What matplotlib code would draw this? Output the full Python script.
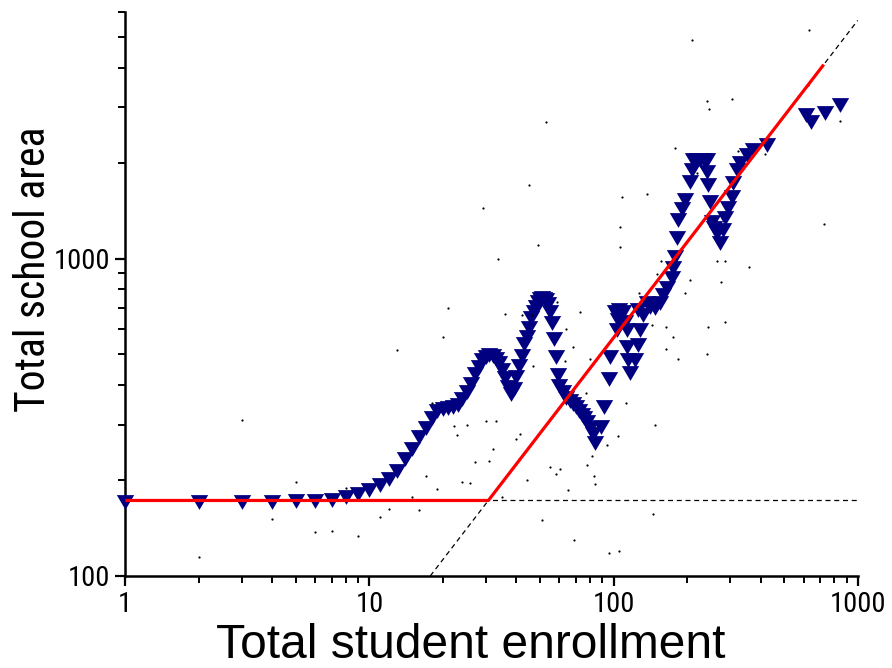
import matplotlib
matplotlib.use("Agg")
import matplotlib.pyplot as plt
from matplotlib.path import Path
from matplotlib.ticker import FixedLocator, FixedFormatter, LogLocator, NullFormatter

# ---- data -------------------------------------------------------------
# smoothed curve (blue triangles)
tri_x = [1, 2, 3, 4, 5, 6, 7, 8, 9, 10, 11, 12, 13, 14, 15, 16, 17, 18, 19, 20,
         21, 22, 23, 24, 25, 26, 27, 28, 29, 30, 31, 32, 33, 34, 35, 36, 37, 38,
         39, 40, 41, 42, 43, 44, 45, 46, 47, 48, 49, 50, 51, 52, 53, 54, 55, 56,
         57, 58, 59, 60, 62, 64, 66, 68, 70, 72, 74, 76, 78, 80, 82, 84,
         89, 91, 96, 97, 101.4, 103, 104.6, 105, 109.7, 111.5, 113.3, 113.3, 115,
         116.8, 122.5, 126.4, 128.4, 126.4, 132.5, 136.8, 141, 148, 155, 160, 165,
         173, 175.8, 178.6, 181.5, 184.4, 190, 196.4, 205.9, 209.2, 212, 219.3,
         225, 235, 241, 241, 244.7, 248.6, 252.6, 258, 264.9, 273.3, 281.8, 286.4,
         295, 305, 309.7, 319.9, 330, 351, 374, 424.5, 615, 643, 736, 848]
tri_y = [171, 171, 171, 171, 172, 172, 174, 177, 181, 186, 193, 202, 215, 233, 252, 275,
         292, 315, 330, 336, 339, 342, 346, 360, 380, 404, 432, 456, 478, 490, 496,
         492, 482, 470, 447, 420, 395, 375, 388, 425, 460, 495, 540, 565, 605, 650,
         680, 705, 730, 745, 750, 748, 742, 720, 680, 625, 560, 490, 430, 398, 380,
         365, 355, 348, 340, 332, 322, 315, 305, 293, 280, 262,
         295, 341, 417, 491, 681, 596, 641, 690, 681, 633, 596, 528, 479,
         435, 479, 535, 596, 689, 665, 723, 706, 698, 723, 769, 807,
         868, 933, 1015, 1160, 1324, 1430, 1531, 1749, 1904, 2047, 2047,
         2047, 2047, 2047, 1880, 1708, 1512, 1308, 1250, 1202, 1118, 1231, 1341,
         1450, 1568, 1729, 1904, 1998, 2123, 2201, 2282, 2837, 2704, 2873, 3051]

# raw observations (small dots)
dot_x = [29.1, 33.6, 634, 209, 52.8, 241, 307, 245, 45, 108, 136.7, 178.5, 846, 624,
         727, 49, 106.3, 106.7, 358, 276.6, 286.5, 265, 127, 197, 206, 178, 419, 323,
         220, 156, 150, 21, 20.1, 13.0, 3.0, 22.1, 25, 29.9, 33, 22.9, 30.8, 27.1, 24,
         25.8, 17, 19, 5, 8, 15, 12, 16, 11, 4, 6, 7, 9, 2, 35.8, 42, 46.3, 58.7,
         72.6, 79.9, 64, 68.1, 46.9, 41.3, 39.9, 32.1, 44, 54.9, 58.2, 60.2, 65.3, 35,
         77.6, 83.1, 83.6, 148, 104, 112, 163.6, 175.7, 183, 163.6, 243, 286.5, 242,
         144.6, 50.9, 69, 96, 105, 18, 77.4, 93.6, 81.4, 143.4, 63]
dot_y = [1441, 1000, 5270, 4884, 2705, 3151, 3190, 2966, 1712, 1566, 1595, 2231, 2725,
         3540, 1288, 1106, 1257, 1091, 943, 846, 987, 980, 781, 777, 856, 1015, 2142,
         2190, 1857, 980, 893, 697, 567, 516, 310, 298, 299, 309, 309, 278, 231, 228,
         198, 196, 206, 188, 198, 190, 177, 163, 162, 153, 151, 138, 139, 134, 115,
         670, 664, 664, 730, 681, 484, 600, 528, 458, 281, 270, 251, 200, 220, 209,
         218, 187, 178, 224, 207, 195, 299, 277, 350, 611, 568, 484, 518, 607, 631,
         500, 157, 150, 130, 118, 120, 350, 376, 258, 239, 619, 477]

# fitted segmented model (red) and its extensions (dashed)
break_x = 30.7
plateau_y = 173
fit_end_x = 726
x_min, x_max = 1, 1000
y_min, y_max = 100, 6000
x_ticks = [1, 10, 100, 1000]
x_tick_labels = ["1", "10", "100", "1000"]
y_ticks = [100, 1000]
y_tick_labels = ["100", "1000"]

# ---- figure -------------------------------------------------------------
fig = plt.figure(figsize=(8.92, 6.68), dpi=100)
ax = fig.add_axes([125.3 / 892, 92 / 668, (857.7 - 125.3) / 892, (576 - 11.8) / 668])
ax.set_xscale("log")
ax.set_yscale("log")
ax.set_xlim(x_min, x_max)
ax.set_ylim(y_min, y_max)

tri = Path([(-1, 0.85), (1, 0.85), (0, -0.85), (-1, 0.85)],
           [Path.MOVETO, Path.LINETO, Path.LINETO, Path.CLOSEPOLY])
ax.plot(tri_x, tri_y, linestyle="none", marker=tri, markersize=12.5,
        color="#000080", markeredgewidth=0, clip_on=False, zorder=3)
ax.plot(dot_x, dot_y, linestyle="none", marker="o", markersize=1.6,
        color="black", markeredgewidth=0, zorder=4)

slope_k = plateau_y / break_x
ax.plot([x_min, x_max], [plateau_y, plateau_y], color="black", lw=0.9,
        dashes=(4, 3), zorder=5)
diag_x0 = y_min / slope_k
ax.plot([diag_x0, x_max], [y_min, slope_k * x_max], color="black", lw=0.9,
        dashes=(4, 3), zorder=5)
ax.plot([x_min, break_x, fit_end_x], [plateau_y, plateau_y, slope_k * fit_end_x],
        color="#ff0000", lw=2.3, solid_capstyle="butt", zorder=6)

for s in ["top", "right"]:
    ax.spines[s].set_visible(False)
for s in ["left", "bottom"]:
    ax.spines[s].set_linewidth(1.8)

narrow = ["Roboto Condensed", "DejaVu Sans Condensed", "Liberation Sans Narrow",
          "Liberation Sans", "DejaVu Sans"]
ax.xaxis.set_major_locator(FixedLocator(x_ticks))
ax.xaxis.set_major_formatter(FixedFormatter(x_tick_labels))
ax.yaxis.set_major_locator(FixedLocator(y_ticks))
ax.yaxis.set_major_formatter(FixedFormatter(y_tick_labels))
ax.xaxis.set_minor_locator(LogLocator(base=10, subs=range(2, 10)))
ax.yaxis.set_minor_locator(LogLocator(base=10, subs=range(2, 10)))
ax.xaxis.set_minor_formatter(NullFormatter())
ax.yaxis.set_minor_formatter(NullFormatter())
ax.tick_params(which="major", direction="out", length=7, width=1.6, pad=4)
ax.tick_params(which="minor", direction="out", length=5, width=1.4)
for lab in ax.get_xticklabels() + ax.get_yticklabels():
    lab.set_family(narrow)
    lab.set_fontsize(20.5)

ax.set_xlabel("Total student enrollment", family=["Liberation Sans", "DejaVu Sans"],
              fontsize=34.5)
ax.xaxis.set_label_coords(0.471, -0.083)
ax.set_ylabel("Total school area", family=narrow, fontsize=30)
ax.yaxis.set_label_coords(-0.097, 0.544)

fig.savefig("out.png", dpi=100)
